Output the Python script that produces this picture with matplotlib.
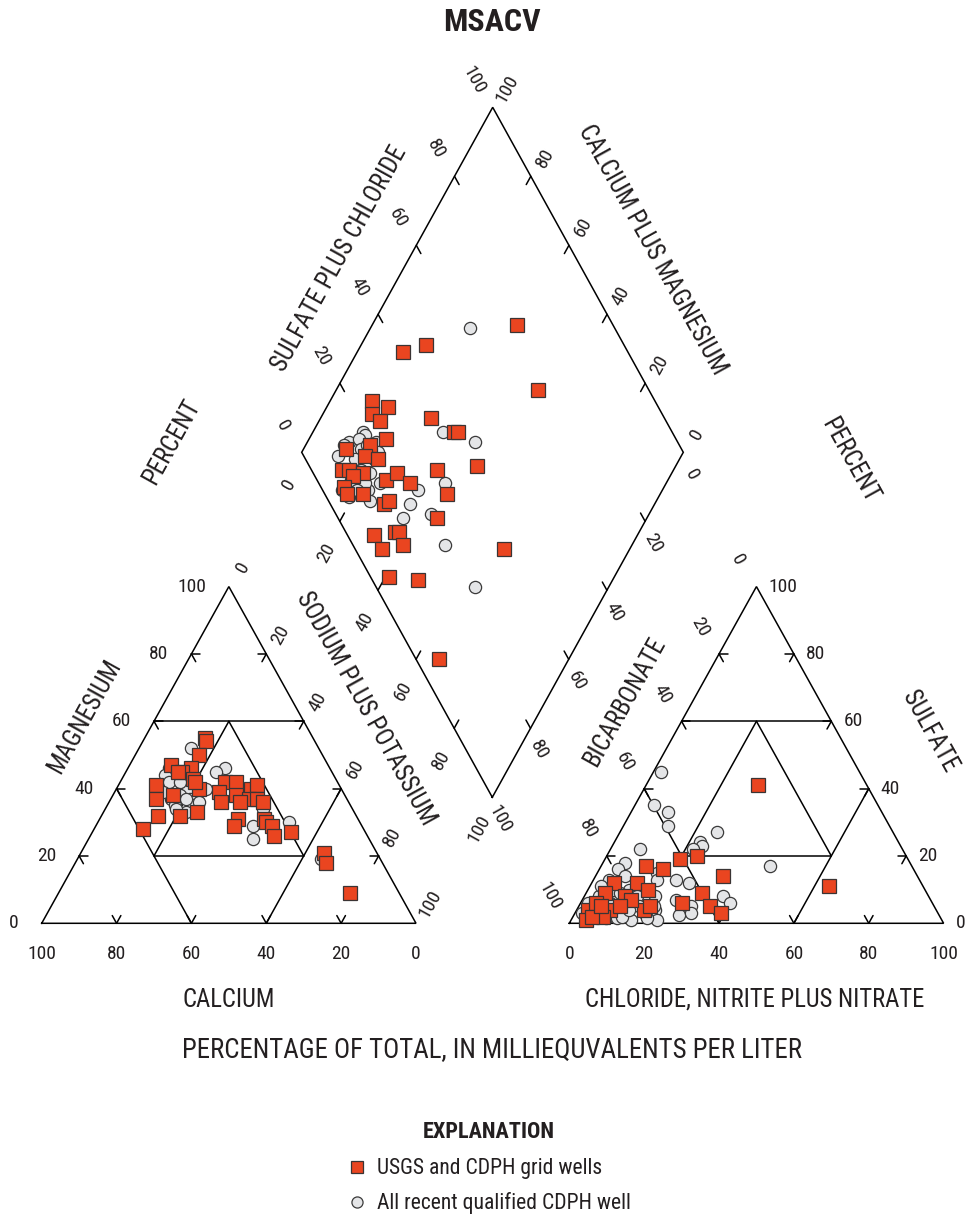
import numpy as np
import matplotlib
matplotlib.use("Agg")
import matplotlib.pyplot as plt
from matplotlib import font_manager
from matplotlib.lines import Line2D

# ---------------- data (percent of total, meq/L) ----------------
tick_values = [0, 20, 40, 60, 80, 100]

# Cation triangle: magnesium and sodium+potassium (calcium = remainder)
cat_sq_mg = [55, 54, 50, 47, 46, 45, 43, 41, 40, 38, 37, 32, 28, 32, 33, 42, 42, 39, 36, 38,
             40, 41, 37, 37, 36, 36, 31, 29, 31, 30, 29, 26, 27, 21, 18, 9, 45, 42]
cat_sq_nak = [16, 17, 17, 11, 17, 15, 19, 10, 22, 16, 12, 15, 13, 21, 25, 28, 31, 28, 30, 33,
              36, 37, 37, 39, 41, 35, 37, 37, 44, 45, 47, 49, 53, 65, 67, 78, 14, 20]
cat_ci_mg = [52, 46, 44, 42, 41, 40, 38, 37, 35, 40, 40, 37, 46, 45, 29, 25, 30, 34, 19, 35,
             37, 36, 33, 42, 39, 34]
cat_ci_nak = [14, 11, 11, 13, 17, 19, 18, 21, 23, 23, 24, 16, 26, 24, 42, 44, 51, 42, 65, 18,
              20, 24, 22, 16, 13, 19]

# Anion triangle: sulfate and chloride+nitrite+nitrate (bicarbonate = remainder)
an_sq_so4 = [41, 11, 20, 19, 14, 17, 16, 9, 6, 5, 3, 12, 12, 10, 9, 8, 4, 4, 5, 4,
             1, 6, 2, 7, 2, 5, 5]
an_sq_cl = [30, 64, 24, 20, 34, 12, 17, 31, 27, 35, 39, 6, 12, 16, 5, 11, 9, 18, 19, 3,
            4, 4, 8, 13, 5, 6, 11]
an_ci_so4 = [45, 35, 33, 29, 27, 24, 23, 22, 22, 17, 18, 16, 14, 15, 13, 12, 8, 6, 5, 7,
             4, 1, 13, 10, 8, 6, 6, 8, 5, 1.5, 1.5, 1.5, 1, 2.5, 3, 13, 8, 10, 5, 4,
             3, 3, 6, 2, 11, 9, 4]
an_ci_cl = [2, 5, 10, 12, 26, 23, 24, 22, 8, 45, 6, 5, 8, 16, 22, 26, 37, 40, 30, 25,
            21, 23, 4, 11, 14, 11, 8, 19, 20, 9, 12, 20, 16, 28, 31, 17, 4, 7, 16, 9,
            5, 2, 2, 13, 3, 9, 14]

# Diamond: sulfate+chloride and calcium+magnesium
dia_sq_so4cl = [75, 48, 41, 71, 26, 29, 39, 43, 44, 24, 25, 24, 12, 19, 16, 19, 8, 10, 13, 10,
                6, 6, 10, 18, 22, 24, 14, 16, 33, 44, 32, 26, 7, 7, 13, 14, 13, 39, 5, 12, 6]
dia_sq_camg = [62, 83, 88, 47, 89, 84, 71, 63, 62, 87, 84, 80, 89, 83, 83, 79, 87, 85, 81, 83,
               84, 82, 78, 74, 72, 67, 71, 70, 62, 52, 56, 55, 69, 65, 64, 63, 60, 33, 59, 51, 34]
dia_ci_so4cl = [62, 40, 47, 19, 19, 14, 17, 21, 16, 18, 20, 9, 13, 18, 10, 13, 15, 5, 6, 12,
                11, 16, 25, 33, 21, 25, 17, 24, 26, 12, 9, 12, 9]
dia_ci_camg = [74, 66, 56, 87, 86, 89, 87, 82, 85, 84, 80, 90, 85, 80, 85, 82, 79, 84, 81, 77,
               75, 75, 64, 58, 64, 57, 64, 49, 35, 90, 83, 79, 80]

series_labels = ["USGS and CDPH grid wells", "All recent qualified CDPH well"]

# ---------------- fonts ----------------
avail = {f.name for f in font_manager.fontManager.ttflist}
FONT = None
for cand in ["Roboto Condensed", "Liberation Sans Narrow", "Open Sans Condensed",
             "Noto Sans Condensed", "DejaVu Sans Condensed"]:
    if cand in avail:
        FONT = cand
        break
SC = 1.0
if FONT is None:
    FONT = "Liberation Sans"
    SC = 0.84

# ---------------- layout (figure pixel space) ----------------
W, H = 968, 1220
fig = plt.figure(figsize=(W / 100, H / 100), dpi=100)
ax = fig.add_axes([0, 0, 1, 1])
ax.set_xlim(0, W)
ax.set_ylim(H, 0)
ax.axis("off")

SX, SY = 3.743, 3.367
BASE = 923.3
CAT_X0 = 41.7
AN_X0 = 569.3
DB = np.array([492.3, 797.3])
DL = np.array([301.7, 452.3])
DR = np.array([683.3, 452.3])


def cat_xy(mg, nak):
    mg = np.asarray(mg, float); nak = np.asarray(nak, float)
    return CAT_X0 + SX * (nak + mg / 2), BASE - SY * mg


def an_xy(so4, cl):
    so4 = np.asarray(so4, float); cl = np.asarray(cl, float)
    return AN_X0 + SX * (cl + so4 / 2), BASE - SY * so4


def dia_xy(s, c):
    s = np.asarray(s, float) / 100; c = np.asarray(c, float) / 100
    x = DB[0] + s * (DR[0] - DB[0]) + c * (DL[0] - DB[0])
    y = DB[1] + s * (DR[1] - DB[1]) + c * (DL[1] - DB[1])
    return x, y


LW = 1.1
LC = "black"


def seg(f, a, b):
    x0, y0 = f(*a); x1, y1 = f(*b)
    ax.plot([x0, x1], [y0, y1], color=LC, lw=LW, solid_capstyle="round", zorder=2)


def tri_frame(f):
    # f(top, right)
    pts = [(0, 0), (0, 100), (100, 0), (0, 0)]
    xs, ys = zip(*[f(*p) for p in pts])
    ax.plot(xs, ys, color=LC, lw=LW, solid_joinstyle="miter", zorder=2)
    seg(f, (60, 0), (60, 40))
    seg(f, (20, 20), (20, 60))
    seg(f, (0, 40), (40, 0))
    seg(f, (20, 20), (60, 20))
    seg(f, (20, 60), (60, 20))
    seg(f, (0, 60), (40, 60))
    d = 2.3
    for v in tick_values[1:-1]:
        seg(f, (0, v), (d, v)); seg(f, (0, v), (d, v - d))
        seg(f, (v, 0), (v, d)); seg(f, (v, 0), (v - d, d))
        seg(f, (v, 100 - v), (v, 100 - v - d)); seg(f, (v, 100 - v), (v - d, 100 - v))


tri_frame(cat_xy)
tri_frame(an_xy)

# diamond
xs, ys = dia_xy([0, 100, 100, 0, 0], [0, 0, 100, 100, 0])
ax.plot(xs, ys, color=LC, lw=LW, solid_joinstyle="miter", zorder=2)
d = 2.4
for v in tick_values[1:-1]:
    seg(dia_xy, (v, 100), (v, 100 - d))
    seg(dia_xy, (100, v), (100 - d, v))
    seg(dia_xy, (0, v), (d, v))
    seg(dia_xy, (v, 0), (v, d))

# ---------------- text ----------------
TK = 14 * SC
TC = "#231f20"


def txt(x, y, s, size=TK, rot=0, ha="center", va="center", weight="normal"):
    ax.text(x, y, s, fontsize=size, rotation=rot, ha=ha, va=va, family=FONT,
            fontweight=weight, rotation_mode="anchor", color=TC, zorder=3)


for v in tick_values:
    x, y = cat_xy(v, 0); txt(x - 23, y, str(v), ha="right")
    x, y = cat_xy(0, v); txt(x, 954, str(100 - v))
    x, y = cat_xy(100 - v, v); txt(x + 14, y - 19, str(v), rot=61)
    x, y = an_xy(0, v); txt(x, 954, str(v))
    x, y = an_xy(v, 100 - v); txt(x + 12, y, str(v), ha="left")
    x, y = an_xy(100 - v, 0); txt(x - 19, y - 27, str(v), rot=-61)
    x, y = dia_xy(v, 100); txt(x - 19, y - 27, str(v), rot=-61)
    x, y = dia_xy(100, v); txt(x + 14, y - 18, str(v), rot=61)
    x, y = dia_xy(0, 100 - v); txt(x - 13, y + 32, str(v), rot=61)
    x, y = dia_xy(100 - v, 0); txt(x + 8, y + 22, str(v), rot=-61)

AT = 17.7 * SC
txt(492, 22, "MSACV", size=23 * SC, weight="bold")
txt(85, 717, "MAGNESIUM", size=AT, rot=61)
txt(366, 708, "SODIUM PLUS POTASSIUM", size=AT, rot=-61)
txt(229, 1000, "CALCIUM", size=AT)
txt(755, 1000, "CHLORIDE, NITRITE PLUS NITRATE", size=AT)
txt(625, 702, "BICARBONATE", size=AT, rot=61)
txt(930, 732, "SULFATE", size=AT, rot=-61)
txt(339, 259, "SULFATE PLUS CHLORIDE", size=AT, rot=61)
txt(652, 250, "CALCIUM PLUS MAGNESIUM", size=AT, rot=-61)
txt(172, 442, "PERCENT", size=AT, rot=61)
txt(850, 460, "PERCENT", size=AT, rot=-61)
txt(492, 1050, "PERCENTAGE OF TOTAL, IN MILLIEQUVALENTS PER LITER", size=19.4 * SC)

# ---------------- points ----------------
SQ = dict(marker="s", ms=9.4, mfc="#ea4520", mec="#3a3434", mew=0.9, ls="none", zorder=5)
CI = dict(marker="o", ms=8.8, mfc="#e4e5e7", mec="#3a3a3a", mew=0.9, ls="none", zorder=4)

ax.plot(*cat_xy(cat_ci_mg, cat_ci_nak), **CI)
ax.plot(*an_xy(an_ci_so4, an_ci_cl), **CI)
ax.plot(*dia_xy(dia_ci_so4cl, dia_ci_camg), **CI)
ax.plot(*cat_xy(cat_sq_mg, cat_sq_nak), **SQ)
ax.plot(*an_xy(an_sq_so4, an_sq_cl), **SQ)
ax.plot(*dia_xy(dia_sq_so4cl, dia_sq_camg), **SQ)

h_sq = Line2D([], [], **{**SQ, "ms": 9.2})
h_ci = Line2D([], [], **{**CI, "ms": 8.0})
leg = ax.legend([h_sq, h_ci], series_labels, loc="upper center",
                bbox_to_anchor=(489, 1110), bbox_transform=ax.transData,
                frameon=False, numpoints=1, handlelength=0.9, handletextpad=0.5,
                labelspacing=0.6, borderpad=0, title="EXPLANATION",
                prop={"family": FONT, "size": 15.6 * SC},
                title_fontproperties={"family": FONT, "size": 16 * SC, "weight": "bold"})
leg._legend_box.sep = 11
for t in leg.get_texts():
    t.set_color(TC)
leg.get_title().set_color(TC)

fig.savefig("out.png", dpi=100)
